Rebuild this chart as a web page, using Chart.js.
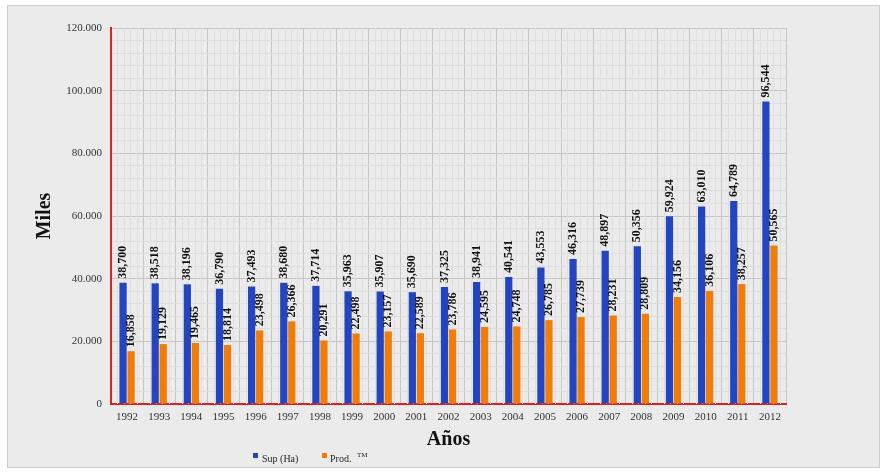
<!DOCTYPE html>
<html>
<head>
<meta charset="utf-8">
<script src="https://cdn.jsdelivr.net/npm/chart.js@4"></script>
<style>
  body { margin: 0; background: #ffffff; }
  canvas { display: block; }
</style>
</head>
<body>
<canvas id="chart" width="886" height="475"></canvas>
<script>
var years = ['1992', '1993', '1994', '1995', '1996', '1997', '1998', '1999', '2000', '2001', '2002',
             '2003', '2004', '2005', '2006', '2007', '2008', '2009', '2010', '2011', '2012'];
var superficie = [38700, 38518, 38196, 36790, 37493, 38680, 37714, 35963, 35907, 35690, 37325,
                  38941, 40541, 43553, 46316, 48897, 50356, 59924, 63010, 64789, 96544];
var produccion = [16858, 19129, 19465, 18814, 23498, 26366, 20291, 22498, 23157, 22589, 23786,
                  24595, 24748, 26785, 27739, 28231, 28809, 34156, 36106, 38257, 50565];
var yMax = 120000;
var yMajor = 20000;
var yMinor = 4000;

var serif = '"Liberation Serif", "Times New Roman", serif';

function withDots(v) {
    return String(v).replace(/\B(?=(\d{3})+(?!\d))/g, '.');
}
function withCommas(v) {
    return String(v).replace(/\B(?=(\d{3})+(?!\d))/g, ',');
}

// frame, minor grid, value labels and legend
var decor = {
    id: 'decor',
    beforeDraw: function(chart) {
        var c = chart.ctx;
        c.save();
        c.fillStyle = '#ffffff';
        c.fillRect(0, 0, chart.width, chart.height);
        c.fillStyle = '#ebebeb';
        c.fillRect(7, 5, 873, 463);
        c.strokeStyle = '#cdcdcd';
        c.lineWidth = 1;
        c.strokeRect(7.5, 5.5, 872, 462);
        c.restore();
    },
    beforeDatasetsDraw: function(chart) {
        var c = chart.ctx;
        var area = chart.chartArea;
        var x = chart.scales.x;
        var n = years.length;
        var w = (x.right - x.left) / n;
        c.save();
        c.strokeStyle = '#dfdfdf';
        c.lineWidth = 1;
        for (var i = 0; i < n; i++) {
            for (var k = 1; k < 5; k++) {
                var px = Math.round(x.left + (i + k / 5) * w) + 0.5;
                c.beginPath();
                c.moveTo(px, area.top);
                c.lineTo(px, area.bottom);
                c.stroke();
            }
        }
        c.restore();
    },
    afterDatasetsDraw: function(chart) {
        var c = chart.ctx;
        c.save();
        c.fillStyle = '#111111';
        c.font = 'bold 12px ' + serif;
        c.textAlign = 'left';
        c.textBaseline = 'middle';
        chart.data.datasets.forEach(function(ds, di) {
            var meta = chart.getDatasetMeta(di);
            meta.data.forEach(function(bar, i) {
                c.save();
                c.translate(bar.x, bar.y - 4);
                c.rotate(-Math.PI / 2);
                c.fillText(withCommas(ds.data[i]), 0, 0);
                c.restore();
            });
        });
        c.restore();
    },
    afterDraw: function(chart) {
        var c = chart.ctx;
        c.save();
        c.textBaseline = 'middle';
        c.textAlign = 'left';
        c.fillStyle = '#2346c0';
        c.fillRect(253, 453, 5, 5);
        c.fillStyle = '#222222';
        c.font = '10px ' + serif;
        c.fillText('Sup (Ha)', 262, 459);
        c.fillStyle = '#f07c0a';
        c.fillRect(322, 453, 5, 5);
        c.fillStyle = '#222222';
        c.fillText('Prod.', 330, 459);
        c.font = '7px ' + serif;
        c.fillText('TM', 357, 455);
        c.restore();
    }
};

var ctx = document.getElementById('chart').getContext('2d');
var myChart = new Chart(ctx, {
    type: 'bar',
    data: {
        labels: years,
        datasets: [{
            label: 'Sup (Ha)',
            data: superficie,
            backgroundColor: '#2346c0',
            categoryPercentage: 0.5,
            barPercentage: 0.9
        }, {
            label: 'Prod. TM',
            data: produccion,
            backgroundColor: '#f07c0a',
            categoryPercentage: 0.5,
            barPercentage: 0.9
        }]
    },
    options: {
        responsive: false,
        animation: false,
        layout: { padding: { left: 0, right: 100, top: 28, bottom: 0 } },
        plugins: {
            legend: { display: false },
            tooltip: { enabled: false }
        },
        scales: {
            x: {
                afterFit: function(scale) { scale.height = 71; },
                grid: { color: '#c6c6c6', drawTicks: false, offset: true },
                border: { color: '#e02020', width: 2 },
                ticks: { color: '#333333', font: { family: serif, size: 11 }, padding: 7, maxRotation: 0 },
                title: {
                    display: true,
                    text: 'Años',
                    color: '#111111',
                    font: { family: serif, size: 20, weight: 'bold' },
                    padding: { top: 0, bottom: 23 }
                }
            },
            y: {
                min: 0,
                max: yMax,
                afterFit: function(scale) { scale.width = 111; },
                grid: {
                    drawTicks: false,
                    color: function(c) {
                        return c.tick.value % yMajor === 0 ? '#c6c6c6' : '#dedede';
                    }
                },
                border: { color: '#e02020', width: 2 },
                ticks: {
                    stepSize: yMinor,
                    autoSkip: false,
                    color: '#333333',
                    font: { family: serif, size: 11 },
                    padding: 9,
                    callback: function(v) {
                        return v % yMajor === 0 ? withDots(v) : '';
                    }
                },
                title: {
                    display: true,
                    text: 'Miles',
                    color: '#111111',
                    font: { family: serif, size: 20, weight: 'bold' },
                    padding: { top: 33, bottom: 0 }
                }
            }
        }
    },
    plugins: [decor]
});
</script>
</body>
</html>
